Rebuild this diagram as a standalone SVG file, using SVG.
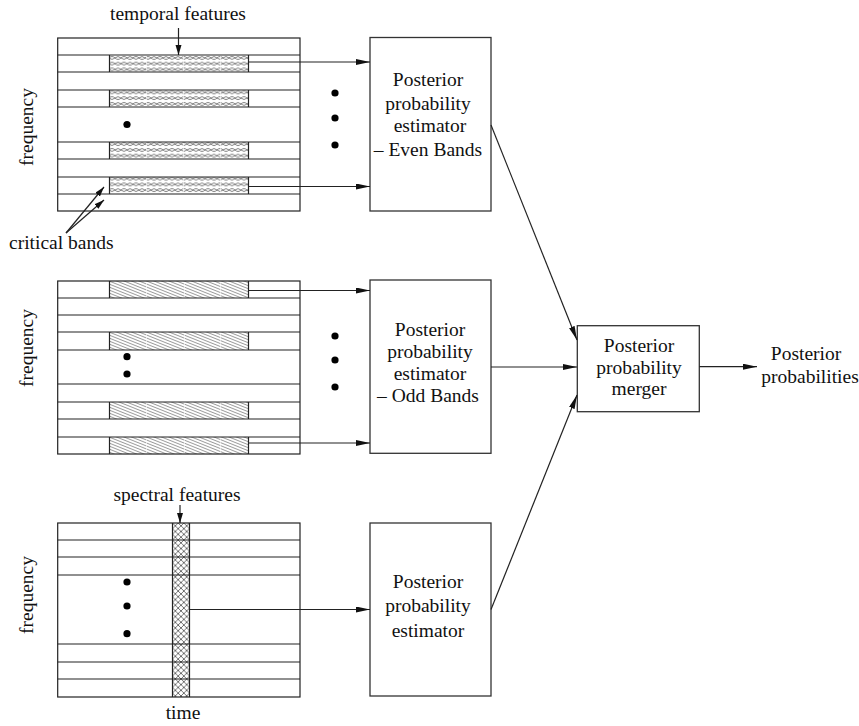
<svg xmlns="http://www.w3.org/2000/svg" width="859" height="726" viewBox="0 0 859 726">
<defs>
<style>
text{font-family:"Liberation Serif","Times New Roman",serif;font-size:19.5px;fill:#111}
.c{text-anchor:middle}
.g{fill:none;stroke:#222;stroke-width:1.2}
.box{fill:#fff;stroke:#333;stroke-width:1.3}
.ln{fill:none;stroke:#222;stroke-width:1.2}
.dot{fill:#000}
.sep{stroke:#fff;stroke-width:1;opacity:0.6}
</style>
<pattern id="fish" patternUnits="userSpaceOnUse" x="109" y="55" width="12" height="5.75">
<rect width="12" height="5.75" fill="#fff"/>
<path d="M0,2.9 Q3,0 6,2.9 T12,2.9 M0,2.9 Q3,5.75 6,2.9 T12,2.9" fill="none" stroke="#707070" stroke-width="0.9"/>
</pattern>
<pattern id="diag" patternUnits="userSpaceOnUse" x="109" y="281" width="7.5" height="3">
<rect width="7.5" height="3" fill="#fff"/>
<path d="M0,0 L7.5,3 M-7.5,0 L7.5,6 M0,-3 L15,3" fill="none" stroke="#555" stroke-width="0.6"/>
</pattern>
<pattern id="xh" patternUnits="userSpaceOnUse" x="172.5" y="523" width="5.67" height="5.67">
<rect width="5.67" height="5.67" fill="#fff"/>
<path d="M0,0 L5.67,5.67 M5.67,0 L0,5.67" fill="none" stroke="#333" stroke-width="0.7"/>
</pattern>
<marker id="ah" markerUnits="userSpaceOnUse" markerWidth="15" markerHeight="7" refX="14" refY="3" orient="auto">
<path d="M0,0 L14,3 L0,6 z" fill="#111"/>
</marker>
<marker id="as" markerUnits="userSpaceOnUse" markerWidth="11" markerHeight="7" refX="10" refY="3" orient="auto">
<path d="M0,0 L10,3 L0,6 z" fill="#111"/>
</marker>
</defs>
<rect width="859" height="726" fill="#fff"/>

<g id="grid-temporal-even">
<rect x="109.5" y="55" width="139" height="17" fill="url(#fish)"/>
<rect x="109.5" y="90" width="139" height="17" fill="url(#fish)"/>
<rect x="109.5" y="142" width="139" height="17" fill="url(#fish)"/>
<rect x="109.5" y="177" width="139" height="17" fill="url(#fish)"/>
<path class="sep" d="M146.5,56V71M183.5,56V71M220.5,56V71M146.5,91V106M183.5,91V106M220.5,91V106M146.5,143V158M183.5,143V158M220.5,143V158M146.5,178V193M183.5,178V193M220.5,178V193"/>
<rect class="g" x="57.7" y="38" width="242.3" height="173"/>
<path class="g" d="M57.7,55H300M57.7,72H300M57.7,90H300M57.7,107H300M57.7,142H300M57.7,159H300M57.7,177H300M57.7,194H300"/>
<path class="g" d="M109.5,55V72M248.5,55V72M109.5,90V107M248.5,90V107M109.5,142V159M248.5,142V159M109.5,177V194M248.5,177V194"/>
<circle class="dot" cx="127" cy="124.5" r="3.6"/>
<text x="178" y="20" class="c">temporal features</text>
<text class="c" transform="translate(33,127) rotate(-90)">frequency</text>
<text x="9" y="249">critical bands</text>
</g>

<g id="grid-temporal-odd">
<rect x="109.5" y="281" width="139" height="17" fill="url(#diag)"/>
<rect x="109.5" y="332" width="139" height="18" fill="url(#diag)"/>
<rect x="109.5" y="402" width="139" height="17" fill="url(#diag)"/>
<rect x="109.5" y="437" width="139" height="17" fill="url(#diag)"/>
<path class="sep" d="M146.5,282V297M184.5,282V297M220.5,282V297M146.5,333V349M184.5,333V349M220.5,333V349M146.5,403V418M184.5,403V418M220.5,403V418M146.5,438V453M184.5,438V453M220.5,438V453"/>
<rect class="g" x="57.7" y="281" width="242.3" height="173"/>
<path class="g" d="M57.7,298H300M57.7,315H300M57.7,332H300M57.7,350H300M57.7,384H300M57.7,402H300M57.7,419H300M57.7,437H300"/>
<path class="g" d="M109.5,281V298M248.5,281V298M109.5,332V350M248.5,332V350M109.5,402V419M248.5,402V419M109.5,437V454M248.5,437V454"/>
<circle class="dot" cx="127" cy="356.7" r="3.6"/>
<circle class="dot" cx="127" cy="374" r="3.6"/>
<text class="c" transform="translate(33,348) rotate(-90)">frequency</text>
</g>

<g id="grid-spectral">
<rect x="172.5" y="523" width="17" height="174" fill="url(#xh)"/>
<rect class="g" x="57.7" y="523" width="242.3" height="174"/>
<path class="g" d="M57.7,540H300M57.7,557H300M57.7,575H300M57.7,644H300M57.7,662H300M57.7,679H300"/>
<path class="g" d="M172.5,523V697M189.5,523V697"/>
<circle class="dot" cx="127" cy="582" r="3.6"/>
<circle class="dot" cx="127" cy="606" r="3.6"/>
<circle class="dot" cx="127" cy="633.7" r="3.6"/>
<text x="177" y="501" class="c">spectral features</text>
<text x="183" y="719" class="c">time</text>
<text class="c" transform="translate(33,595) rotate(-90)">frequency</text>
</g>

<g id="estimator-even">
<rect class="box" x="370" y="37.5" width="121" height="173.5"/>
<text x="428" y="86" class="c">Posterior</text>
<text x="428" y="109.5" class="c">probability</text>
<text x="430" y="132" class="c">estimator</text>
<text x="428" y="155.5" class="c">– Even Bands</text>
</g>

<g id="estimator-odd">
<rect class="box" x="370" y="280" width="121" height="173.3"/>
<text x="430" y="336" class="c">Posterior</text>
<text x="430" y="358" class="c">probability</text>
<text x="430" y="379.5" class="c">estimator</text>
<text x="428" y="401.5" class="c">– Odd Bands</text>
</g>

<g id="estimator-spectral">
<rect class="box" x="370" y="523" width="121" height="173"/>
<text x="428" y="588" class="c">Posterior</text>
<text x="428" y="612" class="c">probability</text>
<text x="428" y="636.5" class="c">estimator</text>
</g>

<g id="merger">
<rect class="box" x="577.3" y="325.7" width="122" height="86"/>
<text x="639" y="352.3" class="c">Posterior</text>
<text x="639" y="374.3" class="c">probability</text>
<text x="639" y="394.5" class="c">merger</text>
</g>

<g id="output">
<text x="806" y="359.5" class="c">Posterior</text>
<text x="810" y="382.7" class="c">probabilities</text>
</g>

<g id="dots-between">
<circle class="dot" cx="335" cy="93" r="3.6"/>
<circle class="dot" cx="335" cy="118" r="3.6"/>
<circle class="dot" cx="335" cy="145" r="3.6"/>
<circle class="dot" cx="335" cy="336" r="3.6"/>
<circle class="dot" cx="335" cy="360" r="3.6"/>
<circle class="dot" cx="335" cy="387" r="3.6"/>
</g>

<g id="connectors">
<path class="ln" d="M178.5,28V55" marker-end="url(#as)"/>
<path class="ln" d="M66,233L104,187" marker-end="url(#as)"/>
<path class="ln" d="M66,233L104,200" marker-end="url(#as)"/>
<path class="ln" d="M180,505V523" marker-end="url(#as)"/>
<path class="ln" d="M248.5,62H370" marker-end="url(#ah)"/>
<path class="ln" d="M248.5,186.5H370" marker-end="url(#ah)"/>
<path class="ln" d="M248.5,290.5H370" marker-end="url(#ah)"/>
<path class="ln" d="M248.5,443H370" marker-end="url(#ah)"/>
<path class="ln" d="M189.5,609.5H370" marker-end="url(#ah)"/>
<path class="ln" d="M491,125L577,340" marker-end="url(#ah)"/>
<path class="ln" d="M491,367H577" marker-end="url(#ah)"/>
<path class="ln" d="M491,609.5L577,395" marker-end="url(#ah)"/>
<path class="ln" d="M699.3,366.7H757" marker-end="url(#ah)"/>
</g>
</svg>
